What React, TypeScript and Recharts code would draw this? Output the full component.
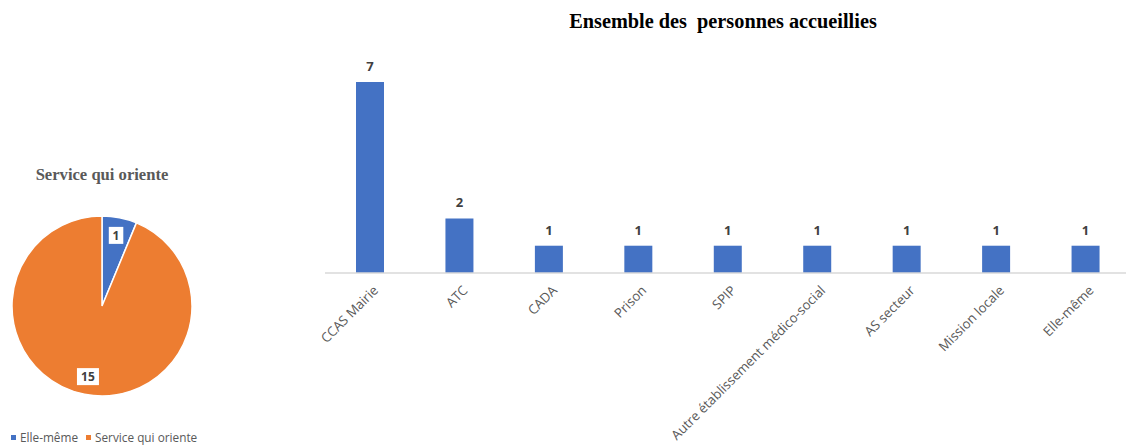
import React from "react";
import { BarChart, Bar, XAxis, YAxis, LabelList, PieChart, Pie, Cell } from "recharts";

const categories = ["CCAS Mairie", "ATC", "CADA", "Prison", "SPIP", "Autre établissement médico-social", "AS secteur", "Mission locale", "Elle-même"];
const counts = [7, 2, 1, 1, 1, 1, 1, 1, 1];
const pieNames = ["Elle-même", "Service qui oriente"];
const pieValues = [1, 15];
const pieColors = ["#4472C4", "#ED7D31"];

const barData = categories.map((c, i) => ({ name: c, value: counts[i] }));
const pieData = pieNames.map((n, i) => ({ name: n, value: pieValues[i] }));

const SANS = "'Open Sans', 'Noto Sans', sans-serif";
const SERIF = "'Liberation Serif', 'DejaVu Serif', serif";

const Tick = (props: any) => {
  const { x, y, payload } = props;
  return (
    <g transform={`translate(${x + 6},${y + 7})`}>
      <text
        transform="rotate(-45)"
        textAnchor="end"
        fontFamily={SANS}
        fontSize={13.2}
        fill="#595959"
        dy="0.35em"
      >
        {payload.value}
      </text>
    </g>
  );
};

const RADIAN = Math.PI / 180;
const PieLabel = (props: any) => {
  const { cx, cy, midAngle, outerRadius, value } = props;
  const r = outerRadius * 0.8;
  const x = cx + r * Math.cos(-midAngle * RADIAN);
  const y = cy + r * Math.sin(-midAngle * RADIAN);
  const txt = String(value);
  const w = txt.length * 7.5 + 7;
  const h = 17;
  return (
    <g>
      <rect x={x - w / 2} y={y - h / 2} width={w} height={h} fill="#FFFFFF" />
      <text x={x} y={y} textAnchor="middle" dominantBaseline="central" fontFamily={SANS} fontWeight="bold" fontSize={12} fill="#404040">
        {txt}
      </text>
    </g>
  );
};

export default function App() {
  return (
    <div style={{ position: "absolute", left: 0, top: 0, width: 1126, height: 445, overflow: "hidden", background: "#fff" }}>
      <div style={{ position: "absolute", left: 0, top: 0 }}>
        <BarChart
          width={1140}
          height={445}
          data={barData}
          margin={{ top: 82, right: 10, left: 325, bottom: 0 }}
          barCategoryGap={0}
        >
          <YAxis hide domain={[0, 7]} />
          <XAxis
            dataKey="name"
            interval={0}
            height={172}
            tickLine={false}
            axisLine={{ stroke: "#D9D9D9", strokeWidth: 1.5 }}
            tick={<Tick />}
          />
          <Bar dataKey="value" fill="#4472C4" barSize={28} isAnimationActive={false}>
            <LabelList dataKey="value" position="top" offset={11} fontFamily={SANS} fontWeight="bold" fontSize={13} fill="#404040" />
          </Bar>
        </BarChart>
      </div>
      <div style={{ position: "absolute", left: 0, top: 10, width: 1126, textAlign: "center", paddingLeft: 320, boxSizing: "border-box" }}>
        <span style={{ fontFamily: SERIF, fontWeight: "bold", fontSize: 20.3, color: "#000", whiteSpace: "pre" }}>
          {"Ensemble des  personnes accueillies"}
        </span>
      </div>
      <div style={{ position: "absolute", left: 0, top: 165, width: 204, textAlign: "center" }}>
        <span style={{ fontFamily: SERIF, fontWeight: "bold", fontSize: 16.6, color: "#595959" }}>Service qui oriente</span>
      </div>
      <div style={{ position: "absolute", left: 0, top: 0 }}>
        <PieChart width={210} height={445} margin={{ top: 0, right: 0, left: 0, bottom: 0 }}>
          <Pie
            data={pieData}
            dataKey="value"
            nameKey="name"
            cx={102}
            cy={306}
            outerRadius={90}
            startAngle={90}
            endAngle={-270}
            stroke="#FFFFFF"
            strokeWidth={1.5}
            label={<PieLabel />}
            labelLine={false}
            isAnimationActive={false}
          >
            {pieData.map((d, i) => (
              <Cell key={d.name} fill={pieColors[i]} />
            ))}
          </Pie>
        </PieChart>
      </div>
      <div style={{ position: "absolute", left: 11, top: 429, display: "flex", alignItems: "center", fontFamily: SANS, fontSize: 11.8, color: "#595959" }}>
        {pieNames.map((n, i) => (
          <div key={n} style={{ display: "flex", alignItems: "center", marginRight: 8 }}>
            <span style={{ display: "inline-block", width: 5, height: 5, background: pieColors[i], marginRight: 4 }} />
            <span>{n}</span>
          </div>
        ))}
      </div>
    </div>
  );
}
